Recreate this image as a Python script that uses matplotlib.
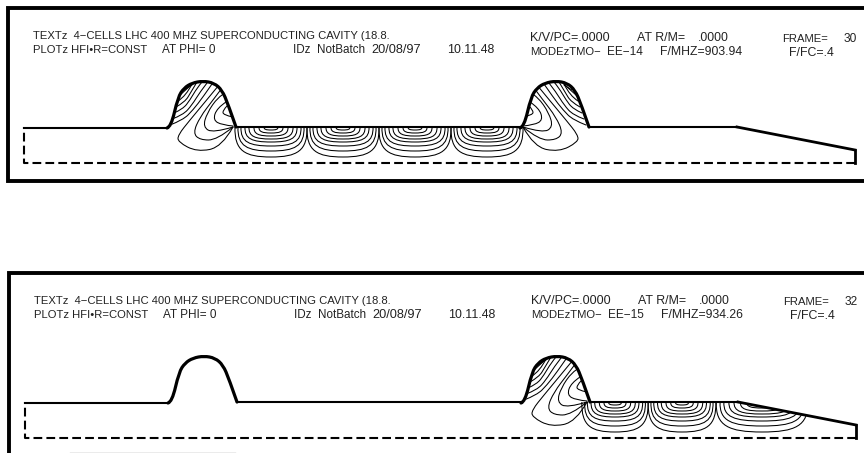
import numpy as np
import matplotlib
matplotlib.use("Agg")
import matplotlib.pyplot as plt
from matplotlib.path import Path
from matplotlib.patches import PathPatch

plt.rcParams['font.family'] = ['Liberation Sans', 'DejaVu Sans']

# cavity wall (picture pixels)
bump_x = [167, 171, 178, 184, 192, 203, 214, 222, 228, 236]
bump_y = [128, 127, 97, 88, 83, 81, 83, 90, 104, 127]
wall_y = 127
pipe_left = 24
bump2_shift = 353
taper_x = [737, 855]
taper_y = [127, 150]
floor_y = 163

# field lines in the cell next to the coupler bump
loop_lines = [
    [(233, 127), (222, 147), (197, 152), (178, 142), (178, 135), (190, 120), (205, 102), (219, 85)],
    [(233, 127), (217, 140), (200, 140), (193, 133), (200, 117), (213, 100), (222, 88)],
    [(233, 127), (213, 133), (203, 127), (207, 113), (218, 97), (225, 93)],
    [(233, 126), (222, 125), (213, 120), (217, 108), (226, 102)],
    [(233, 117), (223, 115), (223, 110), (227, 106)],
]
wall_lines = [
    [(170, 125), (183, 120), (193, 110), (203, 97), (212, 84)],
    [(172, 119), (183, 115), (192, 105), (200, 92), (207, 83)],
    [(174, 113), (183, 109), (190, 100), (197, 88), (202, 82)],
    [(176, 107), (185, 102), (191, 92), (197, 82)],
    [(178, 101), (186, 96), (192, 84)],
    [(180, 95), (188, 88), (193, 83)],
    [(184, 90), (192, 85)],
]

# nested arches under the beam pipe: half width, depth
arch_half = [36, 33, 30, 26, 22, 17, 12, 7]
arch_depth = [30, 24, 19, 15, 12, 9, 6, 3]

cell_centre_top = [271, 343, 415, 487]
cell_stretch_top = [1.0, 1.0, 1.0, 1.0]
cell_centre_bottom = [615, 682, 762]
cell_stretch_bottom = [0.92, 0.94, 1.27]

labels_top = ["TEXTz  4\u2212CELLS LHC 400 MHZ SUPERCONDUCTING CAVITY (18.8.",
              "PLOTz HFI\u2022R=CONST", "AT PHI= 0", "IDz  NotBatch", "20/08/97", "10.11.48",
              "K/V/PC=.0000", "AT R/M=", ".0000", "MODEzTMO\u2212", "EE\u221214", "F/MHZ=903.94",
              "FRAME=", "30", "F/FC=.4"]
labels_bottom = ["TEXTz  4\u2212CELLS LHC 400 MHZ SUPERCONDUCTING CAVITY (18.8.",
                 "PLOTz HFI\u2022R=CONST", "AT PHI= 0", "IDz  NotBatch", "20/08/97", "10.11.48",
                 "K/V/PC=.0000", "AT R/M=", ".0000", "MODEzTMO\u2212", "EE\u221215", "F/MHZ=934.26",
                 "FRAME=", "32", "F/FC=.4"]


def smooth(pts):
    # traced points become control points of quadratic curves
    pts = np.asarray(pts, dtype=float)
    verts = [pts[0]]
    codes = [Path.MOVETO]
    for i in range(1, len(pts) - 1):
        end = pts[-1] if i == len(pts) - 2 else (pts[i] + pts[i + 1]) / 2
        verts += [pts[i], end]
        codes += [Path.CURVE3, Path.CURVE3]
    if len(pts) == 2:
        verts.append(pts[1])
        codes.append(Path.LINETO)
    return Path(verts, codes)


def move(pts, dx, dy, flip=None):
    pts = np.asarray(pts, dtype=float)
    xs = pts[:, 0] if flip is None else flip - pts[:, 0]
    return np.column_stack([xs + dx, pts[:, 1] + dy])


def curve(ax, pts, lw, clip=None):
    p = PathPatch(smooth(pts), fill=False, lw=lw, ec="black", capstyle="round")
    ax.add_patch(p)
    if clip is not None:
        p.set_clip_path(clip)


def arch(ax, cx, top, half, depth, stretch, clip):
    h = half * stretch
    verts = [(cx - h, top), (cx - h * 1.02, top + depth * 0.8), (cx - h * 0.72, top + depth), (cx, top + depth),
             (cx + h * 0.72, top + depth), (cx + h * 1.02, top + depth * 0.8), (cx + h, top)]
    codes = [Path.MOVETO] + [Path.CURVE4] * 6
    p = PathPatch(Path(verts, codes), fill=False, lw=0.75, ec="black")
    ax.add_patch(p)
    p.set_clip_path(clip)


def cavity(ax, dx, dy):
    bump1 = np.column_stack([np.array(bump_x) + dx, np.array(bump_y) + dy])
    bump2 = np.column_stack([np.array(bump_x) + dx + bump2_shift, np.array(bump_y) + dy])
    left = pipe_left + dx
    top = wall_y + dy
    # clip polygon of the inside of the cavity
    inside = np.vstack([[(left, top)], bump1, bump2,
                        [(taper_x[0] + dx, taper_y[0] + dy), (taper_x[1] + dx, taper_y[1] + dy),
                         (taper_x[1] + dx, floor_y + dy), (left, floor_y + dy)]])
    clip = plt.Polygon(inside, closed=True, fill=False, ec="none", transform=ax.transData)
    ax.add_patch(clip)

    ax.plot([left, bump1[0, 0]], [top + 1, top + 1], color="black", lw=1.5)
    curve(ax, bump1, 2.3)
    ax.plot([bump1[-1, 0], bump2[0, 0]], [top, top], color="black", lw=1.5)
    curve(ax, bump2, 2.3)
    ax.plot([bump2[-1, 0], taper_x[0] + dx], [top, top], color="black", lw=1.5)
    ax.plot(np.array(taper_x) + dx, np.array(taper_y) + dy, color="black", lw=2.0)
    ax.plot([taper_x[1] + dx] * 2, [taper_y[1] + dy, floor_y + dy], color="black", lw=2.0)
    ax.plot([taper_x[1] + dx, left, left], [floor_y + dy, floor_y + dy, top],
            color="black", lw=1.5, ls=(0, (4.2, 2.0)))
    return clip


fig = plt.figure(figsize=(8.64, 4.53), dpi=100)
ax = fig.add_axes([0, 0, 1, 1])
ax.set_xlim(0, 864)
ax.set_ylim(453, 0)
ax.axis("off")

# frames
ax.plot([864, 7.5, 7.5, 864], [8, 8, 180.5, 180.5], color="black", lw=2.8, solid_joinstyle="miter")
ax.plot([864, 8.5, 8.5], [273, 273, 453], color="black", lw=2.8, solid_joinstyle="miter")
ax.plot([70, 235], [452.5, 452.5], color="#999999", lw=1)

# upper plot, mode 14
clip = cavity(ax, 0, 0)
for line in loop_lines + wall_lines:
    curve(ax, line, 0.75, clip)
    curve(ax, move(line, 0, 0, flip=756), 0.75, clip)
for cx, st in zip(cell_centre_top, cell_stretch_top):
    for h, d in zip(arch_half, arch_depth):
        arch(ax, cx, wall_y, h, d, st, clip)

# lower plot, mode 15
clip = cavity(ax, 1, 275)
for line in loop_lines + wall_lines:
    curve(ax, move(line, 354, 275), 0.75, clip)
for cx, st in zip(cell_centre_bottom, cell_stretch_bottom):
    for h, d in zip(arch_half, arch_depth):
        arch(ax, cx, wall_y + 275, h, d, st, clip)

# text layout: x, baseline, size, same order as the labels
layout_x = [33, 33, 162, 293, 371, 447, 530, 637, 698, 530, 607, 660, 782, 844, 789]
layout_y_top = [39, 53, 53, 53, 53, 53, 41, 41, 41, 55, 55, 55, 42, 42, 56]
layout_y_bottom = [304, 318, 318, 318, 318, 318, 304, 304, 304, 318, 318, 318, 305, 305, 319]
layout_size = [8.1, 8.1, 8.5, 8.4, 9.2, 8.9, 9.0, 8.9, 8.8, 8.1, 8.5, 8.8, 8.1, 8.6, 8.9]

for s, x, y, fs in zip(labels_top, layout_x, layout_y_top, layout_size):
    ax.text(x, y, s, fontsize=fs, color="#222222", ha="left", va="baseline")
for s, x, y, fs in zip(labels_bottom, layout_x, layout_y_bottom, layout_size):
    ax.text(x + 1, y, s, fontsize=fs, color="#222222", ha="left", va="baseline")

fig.savefig("out.png", dpi=100)
